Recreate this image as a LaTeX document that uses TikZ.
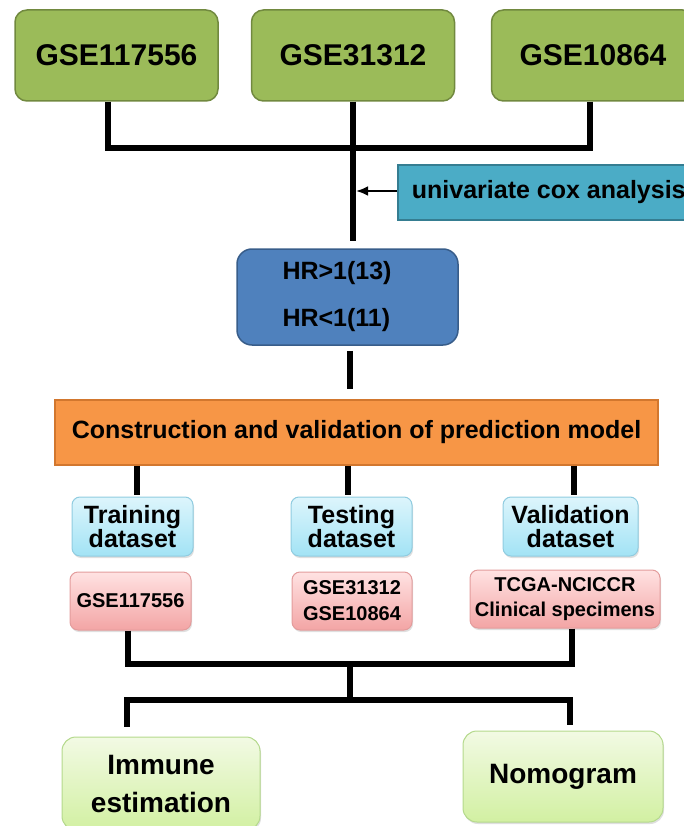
\documentclass[tikz,border=0pt]{standalone}
\usepackage{fontspec}
\setmainfont{Liberation Sans}
\usetikzlibrary{shadows,arrows.meta,calc}

\definecolor{gseFill}{HTML}{9BBB59}
\definecolor{gseLine}{HTML}{71893F}
\definecolor{coxFill}{HTML}{4BACC6}
\definecolor{coxLine}{HTML}{357D91}
\definecolor{hrFill}{HTML}{4F81BD}
\definecolor{hrLine}{HTML}{385D8A}
\definecolor{modelFill}{HTML}{F79646}
\definecolor{modelLine}{HTML}{D2772E}
\definecolor{setTop}{HTML}{DDF5FC}
\definecolor{setBottom}{HTML}{A2E3F5}
\definecolor{setLine}{HTML}{90CCE0}
\definecolor{dataTop}{HTML}{FFE2E2}
\definecolor{dataBottom}{HTML}{F3A5A5}
\definecolor{dataLine}{HTML}{E39C9C}
\definecolor{useTop}{HTML}{F2FAE4}
\definecolor{useBottom}{HTML}{D2F0A2}
\definecolor{useLine}{HTML}{B4D98C}

\begin{document}
\begin{tikzpicture}[x=1pt,y=-1pt,
  link/.style={line width=6pt},
  gse/.style={draw=gseLine,line width=1.5pt,fill=gseFill,rounded corners=12pt,
    minimum width=203pt,minimum height=91pt,font=\fontsize{30}{30}\selectfont\bfseries},
  setbox/.style={draw=setLine,line width=1pt,rounded corners=8pt,
    top color=setTop,bottom color=setBottom,
    drop shadow={opacity=0.25,shadow xshift=1pt,shadow yshift=-2pt},
    minimum width=121pt,minimum height=59pt,align=center,
    font=\fontsize{25}{24}\selectfont\bfseries},
  databox/.style={draw=dataLine,line width=1pt,rounded corners=8pt,
    top color=dataTop,bottom color=dataBottom,
    drop shadow={opacity=0.25,shadow xshift=1pt,shadow yshift=-2pt},
    minimum width=121pt,minimum height=58pt,align=center,
    font=\fontsize{20}{26}\selectfont\bfseries},
  usebox/.style={draw=useLine,line width=1pt,rounded corners=14pt,
    top color=useTop,bottom color=useBottom,
    drop shadow={opacity=0.25,shadow xshift=1pt,shadow yshift=-2pt},
    minimum width=199pt,minimum height=91pt,align=center,
    font=\fontsize{28}{38}\selectfont\bfseries}]
  \useasboundingbox (0,0) rectangle (684,826);

  % GEO series
  \node[gse] (g1) at (116.5,55.5) {GSE117556};
  \node[gse] (g2) at (353,55.5) {GSE31312};
  \node[gse] (g3) at (593,55.5) {GSE10864};

  % Cox screening
  \node[draw=coxLine,line width=1.5pt,fill=coxFill,minimum width=302pt,minimum height=55pt,
    anchor=west,font=\fontsize{25}{25}\selectfont\bfseries] (cox) at (397,192.5) {univariate cox analysis};
  \node[draw=hrLine,line width=1.5pt,fill=hrFill,rounded corners=15pt,minimum width=221pt,
    minimum height=96pt,text width=130pt,align=left,
    font=\fontsize{25}{47}\selectfont\bfseries] (hr) at (347.5,297) {HR>1(13)\\HR<1(11)};

  % Model
  \node[draw=modelLine,line width=1.5pt,fill=modelFill,minimum width=603pt,minimum height=65pt,
    font=\fontsize{25}{25}\selectfont\bfseries] (model) at (356.5,432.5)
    {Construction and validation of prediction model};

  % Datasets
  \node[setbox] (train) at (132.5,526.5) {Training\\dataset};
  \node[setbox] (test) at (351.5,526.5) {Testing\\dataset};
  \node[setbox,minimum width=135pt] (valid) at (570.5,526.5) {Validation\\dataset};
  \node[databox] (d1) at (130.5,601) {GSE117556};
  \node[databox,minimum width=120pt] (d2) at (352,601) {GSE31312\\GSE10864};
  \node[databox,minimum width=190pt,font=\fontsize{20}{25}\selectfont\bfseries] (d3) at (565,599)
    {TCGA-NCICCR\\Clinical specimens};

  % Applications
  \node[usebox,minimum width=198pt,minimum height=93pt] (immune) at (161,783.5) {Immune\\estimation};
  \node[usebox,minimum width=200pt] (nomo) at (563,776.5) {Nomogram};

  % Connectors
  \coordinate (busA) at (353,148);
  \draw[link] ([xshift=-8.5pt]g1.south) |- (busA);
  \draw[link] ([xshift=-3pt]g3.south) |- (busA);
  \draw[link] (g2.south) -- (busA) -- ($(busA |- hr.north)+(0,-7)$);
  \draw[line width=2.5pt,-{Latex[length=12pt,width=10pt]},shorten >=3pt] ($(cox.west)+(0,-1.5)$) -- ($(cox.west -| busA)+(0,-1.5)$);

  \coordinate (hrLow) at ($(hr.south)+(2.5,5)$);
  \draw[link] (hrLow) -- ($(hrLow |- model.north)+(0,-10)$);

  \draw[link] ([xshift=4.5pt]model.south -| train.north) -- ([xshift=4.5pt,yshift=2pt]train.north);
  \draw[link] ([xshift=-3.5pt]model.south -| test.north) -- ([xshift=-3.5pt,yshift=2pt]test.north);
  \draw[link] ([xshift=3.5pt]model.south -| valid.north) -- ([xshift=3.5pt,yshift=2pt]valid.north);

  \coordinate (busB) at (350,664);
  \coordinate (busC) at (350,700);
  \draw[link] ([xshift=-2.5pt]d1.south) |- (busB);
  \draw[link] ([xshift=7pt]d3.south) |- (busB);
  \draw[link] (busB) -- (busC);
  \draw[link] ([xshift=-34pt,yshift=10pt]immune.north) |- (busC);
  \draw[link] ([xshift=7pt,yshift=6pt]nomo.north) |- (busC);
\end{tikzpicture}
\end{document}
